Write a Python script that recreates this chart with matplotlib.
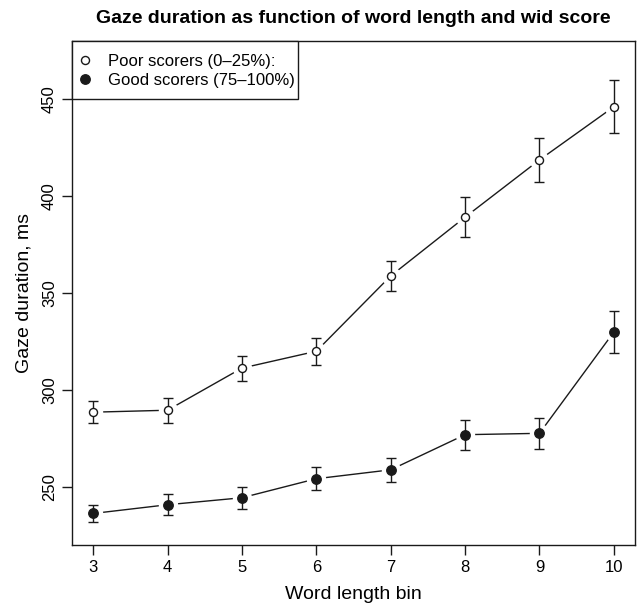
import matplotlib
matplotlib.use("Agg")
from matplotlib import pyplot as plt
from matplotlib.lines import Line2D
from matplotlib.patches import Rectangle

plt.rcParams["font.family"] = ["Liberation Sans", "DejaVu Sans"]

word_len = [3, 4, 5, 6, 7, 8, 9, 10]
poor_mean = [288.6, 289.6, 311.3, 320.0, 358.8, 389.1, 418.6, 446.0]
poor_err = [5.6, 6.4, 6.5, 7.0, 7.5, 10.3, 11.2, 13.6]
good_mean = [236.4, 240.9, 244.5, 254.3, 258.9, 277.0, 277.7, 329.9]
good_err = [4.5, 5.5, 5.7, 6.0, 6.3, 7.7, 8.0, 11.0]
legend_labels = ["Poor scorers (0\u201325%):", "Good scorers (75\u2013100%)"]

ink = "#1a1a1a"


def draw_series(ax, x, y, err, filled):
    # R type="b": line with gaps around points
    ax.plot(x, y, color=ink, lw=1.0, zorder=1)
    ax.plot(x, y, "o", ms=14, mfc="white", mec="none", zorder=2)
    ax.errorbar(x, y, yerr=err, fmt="none", ecolor=ink, elinewidth=1.0,
                capsize=3.4, capthick=1.0, zorder=3)
    if filled:
        ax.plot(x, y, "o", ms=6.8, mfc=ink, mec=ink, zorder=4)
    else:
        ax.plot(x, y, "o", ms=5.8, mfc="white", mec=ink, mew=1.0, zorder=4)


def main():
    fig = plt.figure(figsize=(6.38, 6.08), dpi=100)
    ax = fig.add_axes([0.1133, 0.1041, 0.8815, 0.8285])

    draw_series(ax, word_len, poor_mean, poor_err, False)
    draw_series(ax, word_len, good_mean, good_err, True)

    ax.set_xlim(2.72, 10.28)
    ax.set_ylim(220.3, 479.9)
    ax.set_xticks(word_len)
    ax.set_yticks([250, 300, 350, 400, 450])
    ax.tick_params(labelsize=12, length=7, width=1.0, color=ink, pad=4)
    for lbl in ax.get_yticklabels():
        lbl.set_rotation(90)
        lbl.set_va("center")
    for sp in ax.spines.values():
        sp.set_color(ink)
        sp.set_linewidth(1.0)

    ax.set_xlabel("Word length bin", fontsize=14, labelpad=8)
    ax.set_ylabel("Gaze duration, ms", fontsize=14, labelpad=7)
    ax.set_title("Gaze duration as function of word length and wid score",
                 fontsize=14, fontweight="bold", pad=13)

    # legend box drawn by hand so it sits flush in the corner like R's
    ax.add_patch(Rectangle((0, 0.8849), 0.4013, 0.1151, transform=ax.transAxes,
                           fill=True, fc="white", ec=ink, lw=1.0, zorder=5,
                           clip_on=False))
    handles = [
        Line2D([], [], ls="none", marker="o", ms=5.8, mfc="white", mec=ink),
        Line2D([], [], ls="none", marker="o", ms=6.8, mfc=ink, mec=ink),
    ]
    leg = ax.legend(handles, legend_labels, loc="center left",
                    bbox_to_anchor=(0.0107, 0.9404), borderaxespad=0,
                    borderpad=0, fontsize=12, frameon=False,
                    handlelength=0.8, handletextpad=1.0, labelspacing=0.21)
    leg.set_zorder(6)

    fig.savefig("out.png", dpi=100)


if __name__ == '__main__':
    main()
